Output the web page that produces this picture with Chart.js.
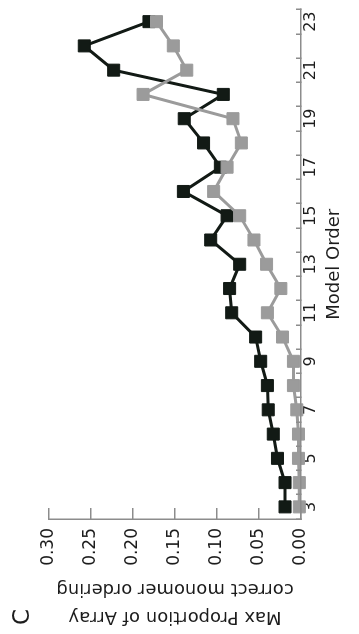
<!DOCTYPE html>
<html>
<head>
<meta charset="utf-8">
<script src="https://cdn.jsdelivr.net/npm/chart.js@4/dist/chart.umd.min.js"></script>
<style>
  html, body { margin: 0; padding: 0; background: #fff; width: 359px; height: 634px; overflow: hidden; }
  /* the figure is laid out landscape and turned a quarter turn counter-clockwise */
  #wrap {
    position: absolute; left: 0; top: 0;
    width: 634px; height: 359px;
    transform-origin: 0 0;
    transform: translate(0, 634px) rotate(-90deg);
  }
  canvas { display: block; }
</style>
</head>
<body>
<div id="wrap"><canvas id="chart" width="634" height="359"></canvas></div>
<script>
// Model orders on the category axis
const modelOrders = ['3', '4', '5', '6', '7', '8', '9', '10', '11', '12', '13',
                     '14', '15', '16', '17', '18', '19', '20', '21', '22', '23'];
// Orders that carry a printed tick label
const labeledOrders = ['3', '5', '7', '9', '11', '13', '15', '17', '19', '21', '23'];

// Max proportion of arrays with correct monomer ordering, dark series
const darkValues = [0.019, 0.019, 0.028, 0.033, 0.039, 0.040, 0.048, 0.054, 0.0825, 0.085, 0.073,
                    0.1075, 0.088, 0.140, 0.096, 0.116, 0.139, 0.0925, 0.223, 0.258, 0.181];
// Same measure, light series
const lightValues = [0.002, 0.002, 0.003, 0.003, 0.005, 0.009, 0.009, 0.022, 0.040, 0.024, 0.041,
                     0.056, 0.073, 0.104, 0.088, 0.071, 0.081, 0.188, 0.136, 0.152, 0.172];

// Value axis ticks
const valueTicks = [0, 0.05, 0.10, 0.15, 0.20, 0.25, 0.30];

const xTitle = 'Model Order';
const yTitle = ['Max Proportion of Array', 'correct monomer ordering'];
const panelLetter = 'C';

const FONT = '"DejaVu Sans", "Open Sans", sans-serif';
const TEXT = '#1c1c1c';
const AXIS = '#8c8c8c';
const DARK = '#121a15';
const LIGHT = '#9b9b9b';

// panel letter in the top-left corner
const panelLabel = {
  id: 'panelLabel',
  afterDraw(chart) {
    const ctx = chart.ctx;
    ctx.save();
    ctx.font = '23px ' + FONT;
    ctx.fillStyle = TEXT;
    ctx.textBaseline = 'alphabetic';
    ctx.textAlign = 'left';
    ctx.fillText(panelLetter, 9, 29);
    ctx.restore();
  }
};

function series(values, color, order) {
  return {
    data: values,
    borderColor: color,
    backgroundColor: color,
    borderWidth: 3,
    pointStyle: 'rect',
    pointRadius: 8.5,
    pointHoverRadius: 8.5,
    pointBorderWidth: 1,
    pointBackgroundColor: color,
    pointBorderColor: color,
    tension: 0,
    clip: false,
    order: order
  };
}

new Chart(document.getElementById('chart'), {
  type: 'line',
  data: {
    labels: modelOrders,
    datasets: [
      series(darkValues, DARK, 1),
      series(lightValues, LIGHT, 0)
    ]
  },
  options: {
    responsive: false,
    animation: false,
    devicePixelRatio: 1,
    layout: { padding: { top: 49, right: 7, bottom: 0, left: 0 } },
    plugins: {
      legend: { display: false },
      tooltip: { enabled: false }
    },
    scales: {
      x: {
        type: 'category',
        offset: true,
        grid: {
          offset: true,
          drawOnChartArea: false,
          drawTicks: true,
          tickLength: -5,
          tickColor: AXIS,
          tickWidth: 1.5,
          lineWidth: 1.5,
          z: 1
        },
        border: { display: true, color: AXIS, width: 1.5, z: 1 },
        ticks: {
          autoSkip: false,
          maxRotation: 0,
          minRotation: 0,
          padding: 5,
          color: TEXT,
          font: { family: FONT, size: 16 },
          callback: (v, i) => (labeledOrders.includes(modelOrders[i]) ? modelOrders[i] : '')
        },
        title: {
          display: true,
          text: xTitle,
          color: TEXT,
          font: { family: FONT, size: 18 },
          padding: { top: 0, bottom: 14 }
        },
        afterFit: (s) => { s.height = 58; }
      },
      y: {
        min: 0,
        max: 0.3,
        afterBuildTicks: (s) => { s.ticks = valueTicks.map((v) => ({ value: v })); },
        grid: {
          drawOnChartArea: false,
          drawTicks: true,
          tickLength: -11,
          tickColor: AXIS,
          tickWidth: 1.5,
          lineWidth: 1.5,
          z: 1
        },
        border: { display: true, color: AXIS, width: 1.5, z: 1 },
        ticks: {
          padding: 20,
          color: TEXT,
          font: { family: FONT, size: 17 },
          callback: (v) => Number(v).toFixed(2)
        },
        title: {
          display: true,
          text: yTitle,
          color: TEXT,
          font: { family: FONT, size: 18, lineHeight: 1.55 },
          padding: { top: 3, bottom: 0 }
        },
        afterFit: (s) => { s.width = 115; }
      }
    }
  },
  plugins: [panelLabel]
});
</script>
</body>
</html>
